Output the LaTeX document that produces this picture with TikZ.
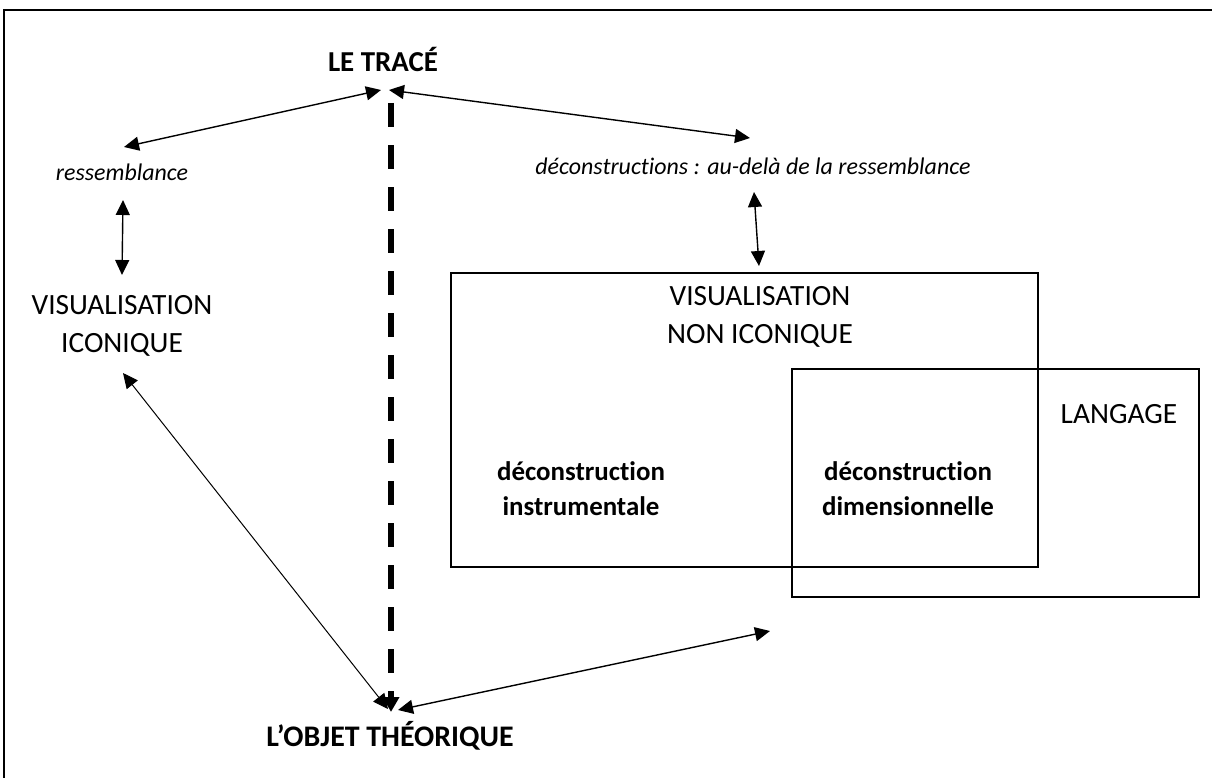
\documentclass[tikz,border=0pt]{standalone}
\usepackage{fontspec}
\setmainfont{Carlito}[Ligatures={NoCommon}]
\usetikzlibrary{arrows.meta}
\begin{document}
\begin{tikzpicture}[x=1bp,y=-1bp,
  txt/.style={inner sep=0pt,align=center,anchor=base,font=\fontsize{29.5}{38}\selectfont},
  btxt/.style={inner sep=0pt,align=center,anchor=base,font=\fontsize{27}{35}\selectfont\bfseries},
  itxt/.style={inner sep=0pt,align=center,anchor=base,font=\fontsize{24}{28}\selectfont\itshape},
  box/.style={draw,line width=2.5bp},
  dbl/.style={{Triangle[length=15bp,width=14bp]}-{Triangle[length=15bp,width=14bp]},line width=1.4bp},
  thinarrow/.style={{Triangle[length=15bp,width=14bp]}-{Triangle[length=15bp,width=14bp]},line width=1bp},
  thickdash/.style={-{Triangle[length=15bp,width=16bp]},line width=6bp,dash pattern=on 24bp off 18bp}
]
\useasboundingbox (0,0) rectangle (1212,778);
% frame
\draw[line width=2.5bp] (4,778) -- (4,10) -- (1212,10);

% boxes
\draw[box] (451,273) rectangle (1038,567);
\draw[box] (792,369) rectangle (1199,597);

% texts (base anchor = baseline of the last line)
\node[btxt,font=\fontsize{29}{35}\selectfont\bfseries] (trace) at (383,72) {LE TRACÉ};
\node[itxt] (ress) at (122,180) {ressemblance};
\node[txt] (vic) at (122,352) {VISUALISATION\\ICONIQUE};
\node[itxt] (dec) at (753,174) {déconstructions : au-delà de la ressemblance};
\node[txt] (vnic) at (760,343) {VISUALISATION\\NON ICONIQUE};
\node[txt] (lang) at (1119,423) {LANGAGE};
\node[btxt] (dinst) at (581,515) {déconstruction\\instrumentale};
\node[btxt] (ddim) at (908,515) {déconstruction\\dimensionnelle};
\node[btxt,font=\fontsize{30}{35}\selectfont\bfseries] (obj) at (390,746) {L’OBJET THÉORIQUE};

% connector end points
\coordinate (t1) at (381,90);
\coordinate (t2) at (389,90);
\coordinate (r1) at (124,147);
\coordinate (d1) at (750,138);
\coordinate (r2) at (123,200);
\coordinate (v1) at (122,275);
\coordinate (d2) at (754,192);
\coordinate (n1) at (759,266);
\coordinate (v2) at (123,373);
\coordinate (o1) at (388,709);
\coordinate (o2) at (398,710);
\coordinate (e1) at (770,631);
\coordinate (tdtop) at (391,103);
\coordinate (tdbot) at (391,712);

\draw[dbl] (r1) -- (t1);
\draw[dbl] (t2) -- (d1);
\draw[dbl] (r2) -- (v1);
\draw[dbl] (d2) -- (n1);
\draw[thinarrow] (v2) -- (o1);
\draw[dbl] (o2) -- (e1);
\draw[thickdash] (tdtop) -- (tdbot);
\end{tikzpicture}
\end{document}
